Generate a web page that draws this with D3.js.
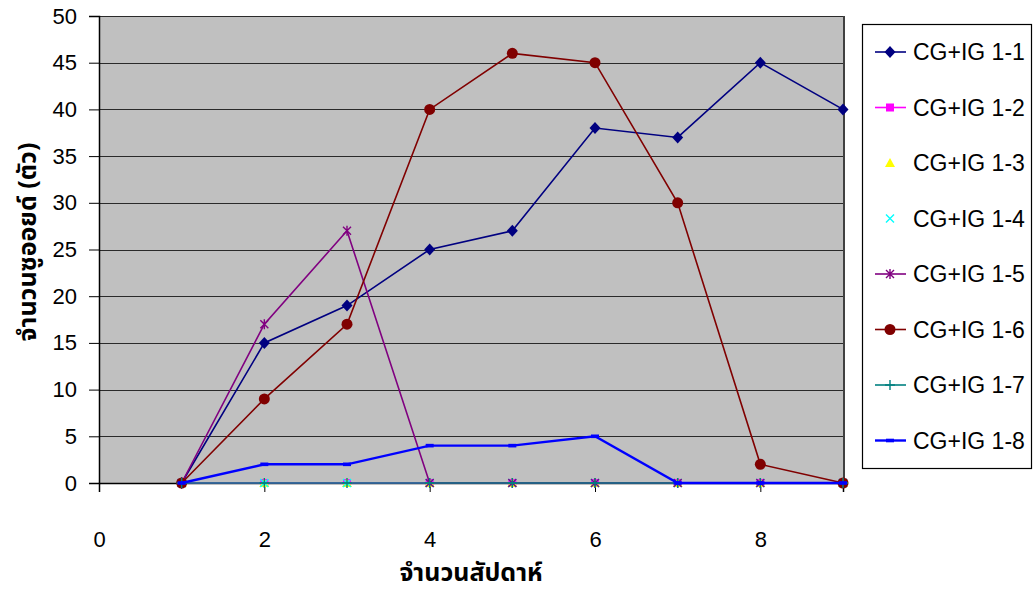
<!DOCTYPE html>
<html>
<head>
<meta charset="utf-8">
<script src="https://cdn.jsdelivr.net/npm/d3@7"></script>
<style>
  html, body { margin: 0; padding: 0; background: #fff; }
  svg text { font-family: "Liberation Sans", Arial, sans-serif; fill: #000; }
  .thai { font-family: "Noto Sans Thai", "Tahoma", "Noto Sans", "DejaVu Sans", sans-serif; font-weight: bold; }
</style>
</head>
<body>
<svg id="chart" width="1033" height="591"></svg>
<script>
// Weeks and zooid counts for each colony
const weeks = [1, 2, 3, 4, 5, 6, 7, 8, 9];
const s11 = [0, 15, 19, 25, 27, 38, 37, 45, 40];
const s12 = [0, 0, 0, 0, 0, 0, 0, 0, 0];
const s13 = [0, 0, 0, 0, 0, 0, 0, 0, 0];
const s14 = [0, 0, 0, 0, 0, 0, 0, 0, 0];
const s15 = [0, 17, 27, 0, 0, 0, 0, 0, 0];
const s16 = [0, 9, 17, 40, 46, 45, 30, 2, 0];
const s17 = [0, 0, 0, 0, 0, 0, 0, 0, 0];
const s18 = [0, 2, 2, 4, 4, 5, 0, 0, 0];
const seriesNames = ["CG+IG 1-1", "CG+IG 1-2", "CG+IG 1-3", "CG+IG 1-4", "CG+IG 1-5", "CG+IG 1-6", "CG+IG 1-7", "CG+IG 1-8"];
const xTicks = [0, 2, 4, 6, 8];
const yTicks = [0, 5, 10, 15, 20, 25, 30, 35, 40, 45, 50];
const xTitle = "จำนวนสัปดาห์";
const yTitle = "จำนวนซูออยด์ (ตัว)";

const styles = [
  { color: "#000080", marker: "diamond", line: true },
  { color: "#FF00FF", marker: "square", line: true },
  { color: "#FFFF00", marker: "triangle", line: false },
  { color: "#00FFFF", marker: "cross", line: false },
  { color: "#800080", marker: "star", line: true },
  { color: "#800000", marker: "circle", line: true },
  { color: "#008080", marker: "plus", line: true },
  { color: "#0000FF", marker: "dash", line: true }
];
const values = [s11, s12, s13, s14, s15, s16, s17, s18];

const svg = d3.select("#chart");
const plot = { left: 99, top: 16, right: 843, bottom: 483 };

const x = d3.scaleLinear().domain([0, 9]).range([plot.left, plot.right]);
const y = d3.scaleLinear().domain([0, 50]).range([plot.bottom, plot.top]);

// Plot area
svg.append("rect")
  .attr("x", plot.left).attr("y", plot.top)
  .attr("width", plot.right - plot.left).attr("height", plot.bottom - plot.top)
  .attr("fill", "#C0C0C0");

// Horizontal gridlines
svg.append("g").selectAll("line").data(yTicks.filter(d => d > 0)).join("line")
  .attr("x1", plot.left).attr("x2", plot.right)
  .attr("y1", d => Math.round(y(d)) + 0.5).attr("y2", d => Math.round(y(d)) + 0.5)
  .attr("stroke", "#2a2a2a").attr("stroke-width", 1);

// Right border of plot area
svg.append("line")
  .attr("x1", plot.right + 1).attr("x2", plot.right + 1)
  .attr("y1", plot.top).attr("y2", plot.bottom)
  .attr("stroke", "#000").attr("stroke-width", 1.5);

// Y axis
const yAxis = d3.axisLeft(y).tickValues(yTicks).tickSize(10).tickPadding(12).tickFormat(d3.format("d"));
const gy = svg.append("g").attr("transform", `translate(${plot.left},0)`).call(yAxis);
gy.select(".domain").attr("stroke", "#000").attr("stroke-width", 1.5);
gy.selectAll(".tick line").attr("stroke", "#000");
gy.selectAll(".tick text").attr("font-size", 22).attr("font-family", "Liberation Sans, Arial, sans-serif");

// X axis
const xAxis = d3.axisBottom(x).tickValues(xTicks).tickSize(9).tickPadding(39).tickFormat(d3.format("d"));
const gx = svg.append("g").attr("transform", `translate(0,${plot.bottom})`).call(xAxis);
gx.select(".domain").attr("stroke", "#000").attr("stroke-width", 1.5);
gx.selectAll(".tick line").attr("stroke", "#000");
gx.selectAll(".tick text").attr("font-size", 22).attr("font-family", "Liberation Sans, Arial, sans-serif");

// Marker drawing
function drawMarker(g, type, color) {
  switch (type) {
    case "diamond":
      g.append("path").attr("d", "M0,-6L5.5,0L0,6L-5.5,0Z").attr("fill", color);
      break;
    case "square":
      g.append("rect").attr("x", -4).attr("y", -4).attr("width", 8).attr("height", 8).attr("fill", color);
      break;
    case "triangle":
      g.append("path").attr("d", "M0,-5L5,4L-5,4Z").attr("fill", color);
      break;
    case "cross":
      g.append("path").attr("d", "M-4,-4L4,4M-4,4L4,-4").attr("stroke", color).attr("stroke-width", 1.4);
      break;
    case "star":
      g.append("path").attr("d", "M-4,-4L4,4M-4,4L4,-4M0,-5L0,5").attr("stroke", color).attr("stroke-width", 1.4);
      break;
    case "circle":
      g.append("circle").attr("r", 5.5).attr("fill", color);
      break;
    case "plus":
      g.append("path").attr("d", "M-5,0L5,0M0,-5L0,5").attr("stroke", color).attr("stroke-width", 1.4);
      break;
    case "dash":
      g.append("rect").attr("x", -4).attr("y", -1.8).attr("width", 8).attr("height", 3.6).attr("fill", color);
      break;
  }
}

const line = d3.line().x((d, i) => x(weeks[i])).y(d => y(d));

values.forEach((vals, si) => {
  const st = styles[si];
  const g = svg.append("g");
  if (st.line) {
    g.append("path").datum(vals).attr("d", line)
      .attr("fill", "none").attr("stroke", st.color)
      .attr("stroke-width", si === 7 ? 2.4 : 1.6);
  }
  g.selectAll("g.pt").data(vals).join("g")
    .attr("class", "pt")
    .attr("transform", (d, i) => `translate(${x(weeks[i])},${y(d)})`)
    .each(function () { drawMarker(d3.select(this), st.marker, st.color); });
});

// Legend
const legend = svg.append("g");
legend.append("rect")
  .attr("x", 862.5).attr("y", 24.5).attr("width", 169).attr("height", 444)
  .attr("fill", "#fff").attr("stroke", "#000").attr("stroke-width", 1.2);
seriesNames.forEach((name, i) => {
  const st = styles[i];
  const cy = 52 + i * 55.5;
  const row = legend.append("g");
  if (st.line) {
    row.append("line").attr("x1", 875).attr("x2", 906).attr("y1", cy).attr("y2", cy)
      .attr("stroke", st.color).attr("stroke-width", i === 7 ? 2.4 : 1.6);
  }
  const m = row.append("g").attr("transform", `translate(890,${cy})`);
  drawMarker(m, st.marker, st.color);
  row.append("text").attr("x", 913).attr("y", cy).attr("dy", "0.36em")
    .attr("font-size", 23).text(name);
});

// Axis titles
svg.append("text").attr("class", "thai")
  .attr("x", 471).attr("y", 573).attr("dy", "0.3em").attr("text-anchor", "middle")
  .attr("font-size", 25).text(xTitle);
svg.append("text").attr("class", "thai")
  .attr("transform", "translate(27,242) rotate(-90)")
  .attr("dy", "0.35em")
  .attr("text-anchor", "middle")
  .attr("font-size", 25).text(yTitle);
</script>
</body>
</html>
